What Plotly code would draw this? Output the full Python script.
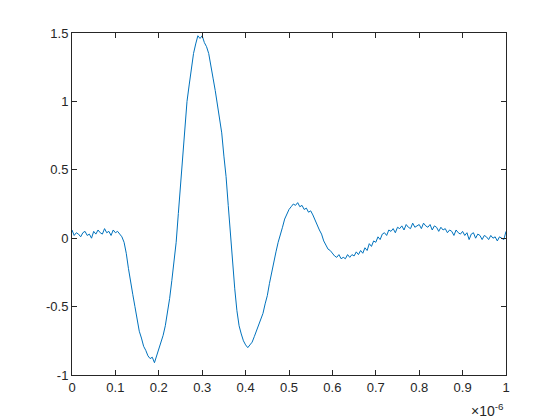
import plotly.graph_objects as go

# sample interval (s)
dt = 5e-9

# signal values (one every 5 ns)
signal = [
    0.06, 0.02, 0.04, 0.03, 0.01, 0.04, 0.05, 0.02, 0.03, 0.00,
    0.05, 0.03, 0.06, 0.04, 0.03, 0.07, 0.04, 0.05, 0.02, 0.06,
    0.04, 0.05, 0.03, 0.01, -0.03, -0.11, -0.22, -0.33, -0.41, -0.50,
    -0.59, -0.68, -0.73, -0.79, -0.82, -0.86, -0.88, -0.87, -0.91, -0.86,
    -0.82, -0.76, -0.71, -0.64, -0.55, -0.44, -0.31, -0.18, -0.03, 0.18,
    0.40, 0.63, 0.84, 1.00, 1.12, 1.24, 1.35, 1.42, 1.48, 1.46,
    1.48, 1.43, 1.40, 1.35, 1.27, 1.17, 1.08, 0.98, 0.90, 0.77,
    0.60, 0.45, 0.24, 0.02, -0.17, -0.37, -0.53, -0.64, -0.70, -0.75,
    -0.78, -0.80, -0.78, -0.76, -0.72, -0.68, -0.64, -0.60, -0.55, -0.48,
    -0.42, -0.33, -0.25, -0.16, -0.10, -0.03, 0.02, 0.08, 0.14, 0.18,
    0.21, 0.23, 0.25, 0.24, 0.26, 0.23, 0.24, 0.21, 0.22, 0.19,
    0.20, 0.17, 0.13, 0.10, 0.06, 0.03, -0.02, -0.05, -0.08, -0.09,
    -0.11, -0.13, -0.14, -0.12, -0.15, -0.14, -0.15, -0.12, -0.14, -0.12,
    -0.13, -0.10, -0.12, -0.09, -0.11, -0.07, -0.09, -0.04, -0.06, -0.02,
    -0.03, 0.01, -0.01, 0.03, 0.04, 0.02, 0.06, 0.05, 0.07, 0.04,
    0.08, 0.07, 0.09, 0.06, 0.10, 0.08, 0.07, 0.11, 0.08, 0.09,
    0.10, 0.07, 0.11, 0.09, 0.08, 0.10, 0.06, 0.09, 0.08, 0.05,
    0.08, 0.06, 0.07, 0.04, 0.06, 0.05, 0.02, 0.06, 0.04, 0.03,
    0.05, 0.02, 0.04, -0.01, 0.03, 0.04, 0.00, 0.03, 0.02, -0.01,
    0.02, 0.01, -0.01, 0.02, 0.00, 0.01, -0.02, 0.01, 0.00, -0.01,
    0.05,
]
time = [i * dt for i in range(len(signal))]

x_tick_vals = [i * 1e-7 for i in range(11)]
x_tick_text = ["0", "0.1", "0.2", "0.3", "0.4", "0.5", "0.6", "0.7", "0.8", "0.9", "1"]
y_tick_vals = [-1, -0.5, 0, 0.5, 1, 1.5]
y_tick_text = ["-1", "-0.5", "0", "0.5", "1", "1.5"]

axis_color = "#262626"
font = dict(family="Liberation Sans, Arial, sans-serif", size=13, color=axis_color)

fig = go.Figure()
fig.add_trace(go.Scatter(x=time, y=signal, mode="lines",
                         line=dict(color="#0072BD", width=1), showlegend=False))

common = dict(showgrid=False, zeroline=False, showline=True, linecolor=axis_color,
              linewidth=1, mirror="allticks", ticks="inside", ticklen=5,
              tickcolor=axis_color, tickfont=font)

fig.update_xaxes(range=[0, 1e-6], tickvals=x_tick_vals, ticktext=x_tick_text, **common)
fig.update_yaxes(range=[-1, 1.5], tickvals=y_tick_vals, ticktext=y_tick_text, **common)

fig.add_annotation(text="\u00d710<sup>-6</sup>", xref="paper", yref="paper",
                   x=1.0, y=0, yshift=-24, xanchor="right", yanchor="top",
                   showarrow=False, font=dict(family=font["family"], size=14, color=axis_color))

# page body adds an 8px offset, so the figure is 8px smaller and left/top margins shifted
fig.update_layout(width=552, height=412, margin=dict(l=64, r=54, t=25, b=45),
                  plot_bgcolor="white", paper_bgcolor="white", font=font)

fig.write_html("out.html")
